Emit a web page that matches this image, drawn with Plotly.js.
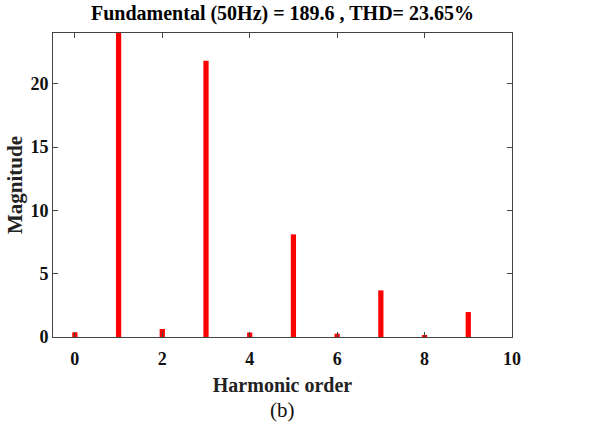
<!DOCTYPE html>
<html><head><meta charset="utf-8">
<script src="https://cdn.plot.ly/plotly-3.0.1.min.js"></script>
<style>html,body{margin:0;padding:0;background:#fff;}#chart{width:601px;height:430px;}</style>
</head><body><div id="chart"></div>
<script>
const harmonicOrder = [0, 1, 2, 3, 4, 5, 6, 7, 8, 9];
const magnitude = [0.37, 100, 0.63, 21.8, 0.35, 8.1, 0.26, 3.68, 0.16, 1.97];
const xTicks = [0, 2, 4, 6, 8, 10];
const yTicks = [0, 5, 10, 15, 20];
const titleText = "Fundamental (50Hz) = 189.6 , THD= 23.65%";

const font = "'Liberation Serif', 'Times New Roman', serif";
const trace = {
  type: 'bar', x: harmonicOrder, y: magnitude, width: 0.12,
  marker: {color: '#ff0000', line: {width: 0}}, hoverinfo: 'none'
};
const layout = {
  width: 601, height: 430,
  margin: {l: 53, r: 89, t: 33, b: 93},
  paper_bgcolor: '#fff', plot_bgcolor: '#fff',
  showlegend: false,
  title: {text: '<b>' + titleText + '</b>', font: {family: font, size: 20, color: '#000'},
          x: 0.5, xref: 'paper', y: 0.986, yanchor: 'top'},
  xaxis: {range: [-0.5, 10], tickvals: xTicks, ticktext: xTicks.map(v => '<b>' + v + '</b>'),
          ticks: 'inside', ticklen: 5, tickcolor: '#444', showline: true, linecolor: '#444',
          linewidth: 1, mirror: 'ticks', showgrid: false, zeroline: false,
          ticklabelstandoff: 5,
          tickfont: {family: font, size: 18, color: '#111'},
          title: {text: '<b>Harmonic order</b>', font: {family: font, size: 20, color: '#222'}, standoff: 10}},
  yaxis: {range: [0, 24], tickvals: yTicks, ticktext: yTicks.map(v => '<b>' + v + '</b>'),
          ticks: 'inside', ticklen: 5, tickcolor: '#444', showline: true, linecolor: '#444',
          linewidth: 1, mirror: 'ticks', showgrid: false, zeroline: false,
          ticklabelstandoff: 0,
          tickfont: {family: font, size: 18, color: '#111'},
          title: {text: '<b>Magnitude</b>', font: {family: font, size: 21, color: '#222'}, standoff: 2}},
  annotations: [{text: '(b)', xref: 'paper', yref: 'paper', x: 0.5, y: -0.24, xanchor: 'center',
                 yanchor: 'middle', showarrow: false, font: {family: font, size: 21, color: '#111'}}]
};
Plotly.newPlot('chart', [trace], layout, {staticPlot: true, displayModeBar: false});
</script></body></html>
